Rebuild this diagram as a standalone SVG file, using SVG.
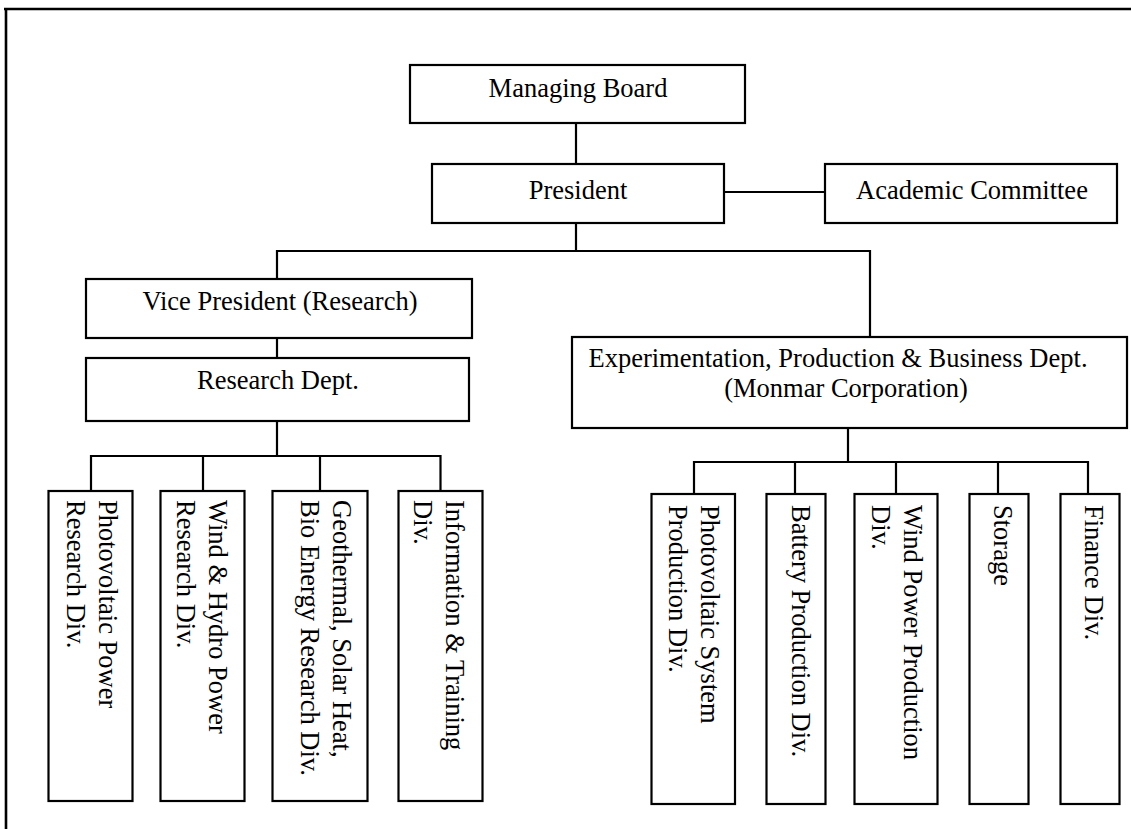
<svg xmlns="http://www.w3.org/2000/svg" width="1131" height="829" viewBox="0 0 1131 829">
  <style>
    .box { fill: #ffffff; stroke: #000000; stroke-width: 2.2; }
    .lbl { font-family: "Liberation Serif", "Times New Roman", serif; font-size: 26.5px; fill: #000000; }
    .mid { text-anchor: middle; }
    .conn { fill: none; stroke: #000000; stroke-width: 2.2; stroke-linecap: square; }
    .frame { fill: none; stroke: #000000; stroke-width: 2.6; }
  </style>

  <rect width="1131" height="829" fill="#ffffff"/>

  <!-- outer frame (top and left edges) -->
  <path class="frame" d="M4,9 H1131 M6,9 V829"/>

  <!-- connectors -->
  <g id="connectors">
    <path class="conn" d="M576,123 V164"/>
    <path class="conn" d="M724,192 H825"/>
    <path class="conn" d="M576,223 V251 M277,251 H870 M277,251 V279 M870,251 V337"/>
    <path class="conn" d="M277,338 V358"/>
    <path class="conn" d="M277,421 V456 M91,456 H440.5 M91,456 V491 M203,456 V491 M320,456 V491 M440.5,456 V491"/>
    <path class="conn" d="M848,428 V462 M694,462 H1088 M694,462 V494 M795,462 V494 M896,462 V494 M998,462 V494 M1088,462 V494"/>
  </g>

  <!-- top level -->
  <g id="managing-board">
    <rect class="box" x="410" y="65" width="335" height="58"/>
    <text class="lbl mid" x="578" y="97">Managing Board</text>
  </g>
  <g id="president">
    <rect class="box" x="432" y="164" width="292" height="59"/>
    <text class="lbl mid" x="578" y="199">President</text>
  </g>
  <g id="academic-committee">
    <rect class="box" x="825" y="164" width="292" height="59"/>
    <text class="lbl mid" x="972" y="199">Academic Committee</text>
  </g>

  <!-- research branch -->
  <g id="vice-president">
    <rect class="box" x="86" y="279" width="386" height="59"/>
    <text class="lbl mid" x="280" y="310">Vice President (Research)</text>
  </g>
  <g id="research-dept">
    <rect class="box" x="86" y="358" width="383" height="63"/>
    <text class="lbl mid" x="278" y="389">Research Dept.</text>
  </g>

  <g id="pv-research">
    <rect class="box" x="48.5" y="491" width="84" height="310"/>
    <text class="lbl" transform="translate(99,500) rotate(90)"><tspan x="0" y="0">Photovoltaic Power</tspan><tspan x="0" y="32">Research Div.</tspan></text>
  </g>
  <g id="wind-hydro-research">
    <rect class="box" x="160.5" y="491" width="84" height="310"/>
    <text class="lbl" transform="translate(209,500) rotate(90)"><tspan x="0" y="0">Wind &amp; Hydro Power</tspan><tspan x="0" y="32">Research Div.</tspan></text>
  </g>
  <g id="geo-solar-bio-research">
    <rect class="box" x="272.5" y="491" width="95" height="310"/>
    <text class="lbl" transform="translate(333,500) rotate(90)"><tspan x="0" y="0">Geothermal, Solar Heat,</tspan><tspan x="0" y="32">Bio Energy Research Div.</tspan></text>
  </g>
  <g id="info-training">
    <rect class="box" x="398.5" y="491" width="84" height="310"/>
    <text class="lbl" transform="translate(446,500) rotate(90)"><tspan x="0" y="0">Information &amp; Training</tspan><tspan x="0" y="32">Div.</tspan></text>
  </g>

  <!-- production branch -->
  <g id="experimentation-dept">
    <rect class="box" x="572" y="337" width="555" height="91"/>
    <text class="lbl mid" x="838" y="367">Experimentation, Production &amp; Business Dept.</text>
    <text class="lbl mid" x="846" y="397">(Monmar Corporation)</text>
  </g>

  <g id="pv-production">
    <rect class="box" x="651.5" y="494" width="83.5" height="310"/>
    <text class="lbl" transform="translate(701,505) rotate(90)"><tspan x="0" y="0">Photovoltaic System</tspan><tspan x="0" y="32">Production Div.</tspan></text>
  </g>
  <g id="battery-production">
    <rect class="box" x="766.5" y="494" width="59" height="310"/>
    <text class="lbl" transform="translate(792,505) rotate(90)">Battery Production Div.</text>
  </g>
  <g id="wind-production">
    <rect class="box" x="854.5" y="494" width="83" height="310"/>
    <text class="lbl" transform="translate(904,505) rotate(90)"><tspan x="0" y="0">Wind Power Production</tspan><tspan x="0" y="32">Div.</tspan></text>
  </g>
  <g id="storage">
    <rect class="box" x="969.5" y="494" width="59" height="310"/>
    <text class="lbl" transform="translate(994,505) rotate(90)">Storage</text>
  </g>
  <g id="finance">
    <rect class="box" x="1060.5" y="494" width="59" height="310"/>
    <text class="lbl" transform="translate(1085,505) rotate(90)">Finance Div.</text>
  </g>
</svg>
